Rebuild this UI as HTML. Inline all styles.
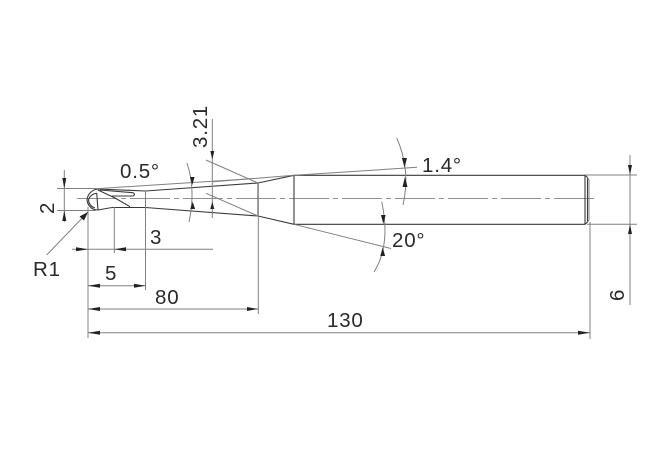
<!DOCTYPE html>
<html>
<head>
<meta charset="utf-8">
<style>
html,body{margin:0;padding:0;background:#fff;width:670px;height:460px;overflow:hidden}
svg{display:block}
text{font-family:"Liberation Sans",sans-serif;font-size:20.5px;fill:#2a2a2a;letter-spacing:.8px}
.o{stroke:#3a3a3a;stroke-width:1.1;fill:none}
.t{stroke:#808080;stroke-width:1;fill:none}
.c{stroke:#909090;stroke-width:1;fill:none;stroke-dasharray:40 4 5 4}
.a{fill:#222;stroke:none}
</style>
</head>
<body>
<svg width="670" height="460" viewBox="0 0 670 460" xmlns="http://www.w3.org/2000/svg">
<rect width="670" height="460" fill="#fff"/>
<!-- centerline -->
<path class="c" d="M77 198.5H597"/>
<!-- outline -->
<path class="o" d="M98 189L145.500 191L258 183L294 175.300H585L587.500 177.500V222L585 224.300H294L258 216L145.500 207.500H112"/>
<path class="o" d="M258 183V216M294 175.300V224.300M585 175.300V224.300"/>
<path class="t" d="M587.500 177.500L589 180V220L587.500 222"/>
<!-- ball tip -->
<path class="o" d="M98 189A12 12 0 0 0 87 200A12 12 0 0 0 94 209.500L98 210L112 207.500"/>
<path class="o" d="M96.700 193.300A9 9 0 0 0 88.500 200A9 9 0 0 0 95 208"/>
<path class="o" d="M100 190L133 192.700Q136 194.500 133 196L112 196"/>
<path class="o" d="M98 190L115 198L130 206.700M96.700 193L98 210"/>
<!-- thin extension lines -->
<path class="t" d="M57 188.500H100L251 178.700"/>
<path class="t" d="M57 210.500H96"/>
<path class="t" d="M213 181.700L294 175.300L417 167.300"/>
<path class="t" d="M206 160L258 183M206 193.300L258 216"/>
<path class="t" d="M294 224.300L391 248.500"/>
<path class="t" d="M585 175H637M587 224.300H637"/>
<path class="t" d="M88 207V338M114.300 207V253M145.500 191V290M258.300 183V314M590 222V339"/>
<!-- dimension lines -->
<path class="t" d="M72 249.300H213M88 285.700H145.500M88 309H258M88 332.700H590"/>
<path class="t" d="M64.300 170V222M212.300 119V218M630 155V305"/>
<path class="t" d="M46.700 255L88 212"/>
<!-- arcs -->
<path class="t" d="M187 163Q196 190 189 222"/>
<path class="t" d="M396.700 138Q411 170 403 205"/>
<path class="t" d="M381.700 201.700Q391 245 374 272"/>
<!-- arrowheads -->
<g class="a">
<path d="M88 249.300L76 247.300V251.300Z"/>
<path d="M114.300 249.300L126 247.300V251.300Z"/>
<path d="M88 285.700L100 283.700V287.700Z"/>
<path d="M145.500 285.700L134 283.700V287.700Z"/>
<path d="M88 309L100 307V311Z"/>
<path d="M258 309L247 307V311Z"/>
<path d="M88 332.700L100 330.700V334.700Z"/>
<path d="M590 332.700L578 330.700V334.700Z"/>
<path d="M64.300 188.500L62.300 178H66.300Z"/>
<path d="M64.300 210.500L62.300 221H66.300Z"/>
<path d="M212.300 159.500L210.300 151H214.300Z"/>
<path d="M212.300 201.700L210.300 209H214.300Z"/>
<path d="M192.300 185L190 177H194.600Z"/>
<path d="M192.700 201.700L190.300 209H195.100Z"/>
<path d="M404.500 167.700L402 158H407Z"/>
<path d="M405 176.700L402.500 187H407.500Z"/>
<path d="M383.300 224L381 215H385.600Z"/>
<path d="M382.700 247.300L380.300 256H385.100Z"/>
<path d="M630 175L628 165H632Z"/>
<path d="M630 224.300L628 234H632Z"/>
<path d="M88 212L84 220.500L79.500 216.500Z"/>
</g>
<!-- labels -->
<text x="120" y="178">0.5°</text>
<text x="422" y="172">1.4°</text>
<text x="392" y="247">20°</text>
<text x="150" y="244">3</text>
<text x="105" y="280">5</text>
<text x="155" y="304">80</text>
<text x="327" y="327">130</text>
<text x="33" y="276">R1</text>
<text transform="translate(54,214) rotate(-90)">2</text>
<text transform="translate(207,148) rotate(-90)">3.21</text>
<text transform="translate(624,301) rotate(-90)">6</text>
</svg>
</body>
</html>
